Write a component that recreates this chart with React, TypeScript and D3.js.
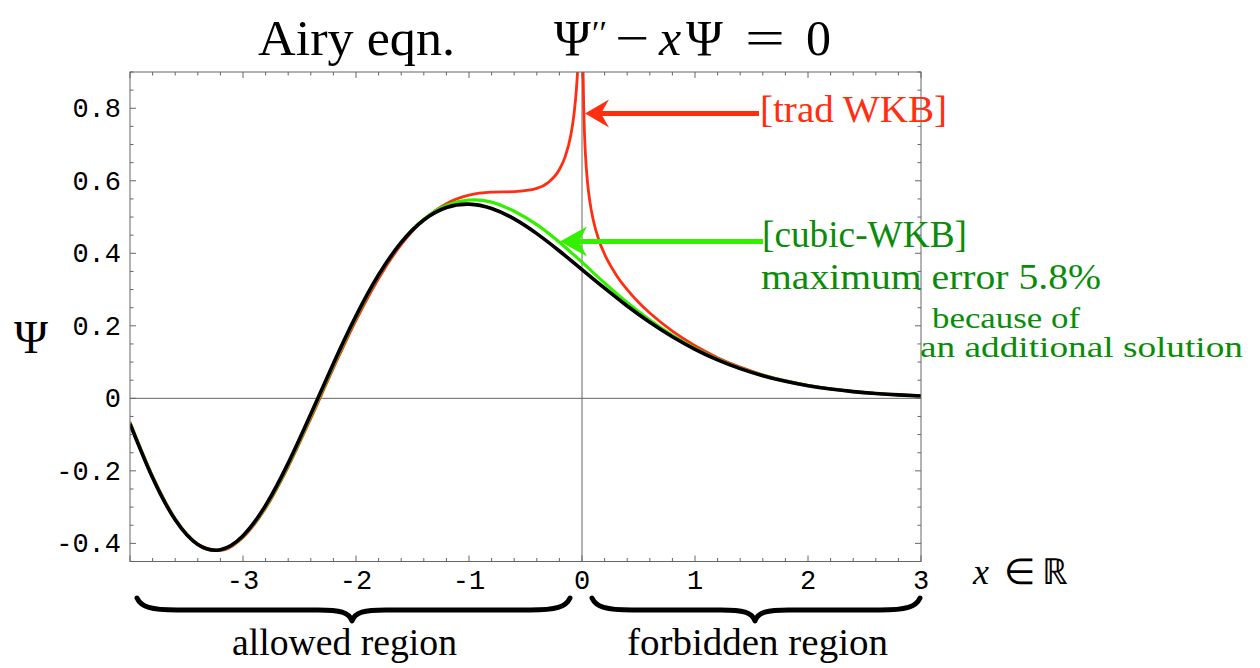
import React from 'react';
import * as d3 from 'd3';

// x grid for exact Airy solution and cubic-WKB approximation
const xGrid = [
  -4.0, -3.8, -3.6, -3.4, -3.2, -3.0, -2.8, -2.6, -2.4, -2.2, -2.0, -1.8,
  -1.6, -1.4, -1.2, -1.0, -0.8, -0.6, -0.4, -0.2, 0.0, 0.2, 0.4, 0.6,
  0.8, 1.0, 1.2, 1.4, 1.6, 1.8, 2.0, 2.2, 2.4, 2.6, 2.8, 3.0,
];
// exact solution (black)
const airyExact = [
  -0.07027, -0.21911, -0.33494, -0.40309, -0.41739, -0.37881, -0.29515, -0.17861,
  -0.04333, 0.09615, 0.22741, 0.34076, 0.42986, 0.4917, 0.52619, 0.53556,
  0.52357, 0.49485, 0.45423, 0.40628, 0.35503, 0.3037, 0.25474, 0.2098,
  0.16985, 0.13529, 0.10613, 0.08204, 0.06254, 0.04704, 0.03492, 0.02561,
  0.01857, 0.01334, 0.00946, 0.00659,
];
// cubic-WKB (green)
const cubicWkb = [
  -0.0685, -0.2175, -0.334, -0.403, -0.418, -0.3805, -0.2985, -0.183,
  -0.0485, 0.091, 0.2235, 0.339, 0.43, 0.494, 0.532, 0.547,
  0.541, 0.516, 0.479, 0.4305, 0.3755, 0.318, 0.264, 0.216,
  0.174, 0.138, 0.108, 0.0832, 0.0633, 0.0476, 0.0353, 0.0258,
  0.0187, 0.0134, 0.0095, 0.0066,
];
// traditional WKB (red), allowed region branch
const tradAllowedX = [
  -4.0, -3.8, -3.6, -3.4, -3.2, -3.0, -2.8, -2.6, -2.4, -2.2, -2.0, -1.8,
  -1.6, -1.4, -1.2, -1.0, -0.8, -0.6, -0.4, -0.3, -0.2, -0.15, -0.1, -0.07,
  -0.05, -0.04, -0.035, -0.03, -0.02,
];
const tradAllowedY = [
  -0.06533, -0.21446, -0.33176, -0.40227, -0.41924, -0.3836, -0.30283, -0.18873,
  -0.0554, 0.08329, 0.21509, 0.33073, 0.42398, 0.49248, 0.53684, 0.56027,
  0.56846, 0.56998, 0.57879, 0.59482, 0.63104, 0.66537, 0.72423, 0.78516,
  0.84992, 0.8968, 0.9264, 0.962, 1.0628,
];
// traditional WKB (red), forbidden region branch
const tradForbiddenX = [
  0.006, 0.008, 0.01, 0.015, 0.02, 0.03, 0.05, 0.07, 0.1, 0.15, 0.2, 0.3,
  0.4, 0.5, 0.6, 0.8, 1.0, 1.2, 1.4, 1.6, 1.8, 2.0, 2.2, 2.4, 2.6, 2.8, 3.0,
];
const tradForbiddenY = [
  1.0136, 0.943, 0.89146, 0.80507, 0.74872, 0.67546, 0.59212, 0.54172, 0.49118,
  0.43606, 0.3974, 0.34161, 0.29966, 0.26502, 0.23512, 0.18511, 0.14483, 0.1122,
  0.08595, 0.06507, 0.04868, 0.03599, 0.0263, 0.019, 0.01358, 0.00959, 0.00671,
];

const xTickValues = [-3, -2, -1, 0, 1, 2, 3];
const xTickLabels = ['-3', '-2', '-1', '0', '1', '2', '3'];
const yTickValues = [-0.4, -0.2, 0, 0.2, 0.4, 0.6, 0.8];
const yTickLabels = ['-0.4', '-0.2', '0', '0.2', '0.4', '0.6', '0.8'];

const RED = '#ff2d12';
const GREEN_LINE = '#33f000';
const GREEN_TEXT = '#0a8c0a';
const AXIS = '#666';
const SERIF = '"Liberation Serif", "Times New Roman", serif';
const MONO = '"Liberation Mono", "Courier New", monospace';

function bracePath(x0: number, x1: number, xm: number, yEnd: number, yBody: number, yTip: number) {
  return [
    `M${x0},${yEnd}`,
    `C${x0 + 4},${yBody - 3} ${x0 + 14},${yBody} ${x0 + 40},${yBody}`,
    `L${xm - 34},${yBody}`,
    `C${xm - 12},${yBody} ${xm - 3},${yBody + 2} ${xm},${yTip}`,
    `C${xm + 3},${yBody + 2} ${xm + 12},${yBody} ${xm + 34},${yBody}`,
    `L${x1 - 40},${yBody}`,
    `C${x1 - 14},${yBody} ${x1 - 4},${yBody - 3} ${x1},${yEnd}`,
  ].join(' ');
}

export default function App() {
  const left = 130, right = 921, top = 72, bottom = 561.5;
  const x = d3.scaleLinear().domain([-4, 3]).range([left, right]);
  const y = d3.scaleLinear().domain([-0.45, 0.9]).range([bottom, top]);

  const lineNatural = d3
    .line<[number, number]>()
    .x((d) => x(d[0]))
    .y((d) => y(d[1]))
    .curve(d3.curveNatural);
  const lineMono = d3
    .line<[number, number]>()
    .x((d) => x(d[0]))
    .y((d) => y(d[1]))
    .curve(d3.curveMonotoneX);

  const blackPath = lineNatural(xGrid.map((v, i) => [v, airyExact[i]] as [number, number])) || '';
  const greenPath = lineNatural(xGrid.map((v, i) => [v, cubicWkb[i]] as [number, number])) || '';
  const redA = lineMono(tradAllowedX.map((v, i) => [v, tradAllowedY[i]] as [number, number])) || '';
  const redF = lineMono(tradForbiddenX.map((v, i) => [v, tradForbiddenY[i]] as [number, number])) || '';

  const xMinor = d3.range(-4, 3.0001, 0.2).map((v) => Math.round(v * 10) / 10);
  const yMinor = d3.range(-0.45, 0.9001, 0.05).map((v) => Math.round(v * 100) / 100);
  const isXMajor = (v: number) => Math.abs(v - Math.round(v)) < 1e-6;
  const isYMajor = (v: number) => Math.abs(v * 5 - Math.round(v * 5)) < 1e-6;

  const ticks: JSX.Element[] = [];
  xMinor.forEach((v, i) => {
    const len = isXMajor(v) ? 6 : 3.5;
    const px = x(v);
    ticks.push(<line key={'xb' + i} x1={px} x2={px} y1={bottom} y2={bottom - len} stroke={AXIS} strokeWidth={1} />);
    ticks.push(<line key={'xt' + i} x1={px} x2={px} y1={top} y2={top + len} stroke={AXIS} strokeWidth={1} />);
  });
  yMinor.forEach((v, i) => {
    const len = isYMajor(v) ? 6 : 3.5;
    const py = y(v);
    ticks.push(<line key={'yl' + i} x1={left} x2={left + len} y1={py} y2={py} stroke={AXIS} strokeWidth={1} />);
    ticks.push(<line key={'yr' + i} x1={right} x2={right - len} y1={py} y2={py} stroke={AXIS} strokeWidth={1} />);
  });

  const fit = { lengthAdjust: 'spacingAndGlyphs' as const };

  return (
    <svg
      width={1260}
      height={668}
      viewBox="0 0 1260 668"
      style={{ position: 'absolute', left: 0, top: 0, background: '#fff' }}
    >
      <defs>
        <clipPath id="plotClip">
          <rect x={left} y={top} width={right - left} height={bottom - top} />
        </clipPath>
      </defs>
      <rect x={0} y={0} width={1260} height={668} fill="#fff" />

      {/* Title */}
      <text x={258} y={55} fontFamily={SERIF} fontSize={50} fill="#000" textLength={197} {...fit}>Airy eqn.</text>
      <g fontFamily={SERIF} fontSize={50} fill="#000">
        <text x={554} y={55}>Ψ</text>
        <text x={592} y={44} fontSize={34}>′′</text>
        <text x={615} y={55} textLength={34} {...fit}>−</text>
        <text x={659} y={55} fontStyle="italic">x</text>
        <text x={686} y={55}>Ψ</text>
        <text x={745} y={55} textLength={40} {...fit}>=</text>
        <text x={806} y={55}>0</text>
      </g>

      {/* zero axes */}
      <line x1={left} x2={right} y1={y(0)} y2={y(0)} stroke={AXIS} strokeWidth={1} />
      <line x1={x(0)} x2={x(0)} y1={top} y2={bottom} stroke={AXIS} strokeWidth={1} />

      {/* curves */}
      <g clipPath="url(#plotClip)" fill="none" strokeLinejoin="round">
        <path d={redA} stroke={RED} strokeWidth={2.8} />
        <path d={redF} stroke={RED} strokeWidth={2.8} />
        <path d={greenPath} stroke={GREEN_LINE} strokeWidth={3.2} />
        <path d={blackPath} stroke="#000" strokeWidth={3.6} />
      </g>

      {/* frame */}
      <rect x={left} y={top} width={right - left} height={bottom - top} fill="none" stroke={AXIS} strokeWidth={1} />
      {ticks}

      {/* tick labels */}
      <g fontFamily={MONO} fontSize={27} fill="#000">
        {yTickValues.map((v, i) => (
          <text key={'yl' + i} x={121} y={y(v) + 9} textAnchor="end">{yTickLabels[i]}</text>
        ))}
        {xTickValues.map((v, i) => (
          <text key={'xl' + i} x={x(v)} y={589} textAnchor="middle">{xTickLabels[i]}</text>
        ))}
      </g>

      {/* axis labels */}
      <text x={31} y={353} fontFamily={SERIF} fontSize={46} textAnchor="middle" fill="#000">Ψ</text>
      <g fontFamily={SERIF} fontSize={36} fill="#000">
        <text x={973} y={584} fontStyle="italic">x</text>
        <text x={1004} y={584}>∈</text>
        <text x={1042} y={584}>ℝ</text>
      </g>

      {/* braces */}
      <path d={bracePath(137, 570, 352, 598, 610, 621)} fill="none" stroke="#000" strokeWidth={5} strokeLinecap="round" strokeLinejoin="round" />
      <path d={bracePath(592, 920, 755, 598, 610, 621)} fill="none" stroke="#000" strokeWidth={5} strokeLinecap="round" strokeLinejoin="round" />
      <text x={232} y={655} fontFamily={SERIF} fontSize={37} fill="#000" textLength={225} {...fit}>allowed region</text>
      <text x={627} y={655} fontFamily={SERIF} fontSize={37} fill="#000" textLength={261} {...fit}>forbidden region</text>

      {/* red annotation */}
      <line x1={600} x2={759} y1={113.5} y2={113.5} stroke={RED} strokeWidth={5} />
      <path d="M585,113.5 L609,99.5 L601,113.5 L609,127.5 Z" fill={RED} />
      <text x={760} y={122} fontFamily={SERIF} fontSize={37} fill={RED} textLength={187} {...fit}>[trad WKB]</text>

      {/* green annotation */}
      <line x1={578} x2={763} y1={241.5} y2={241.5} stroke={GREEN_LINE} strokeWidth={5} />
      <path d="M560,241.5 L587,226.5 L579,241.5 L587,256.5 Z" fill={GREEN_LINE} />
      <g fontFamily={SERIF} fill={GREEN_TEXT}>
        <text x={762} y={247} fontSize={37} textLength={205} {...fit}>[cubic-WKB]</text>
        <text x={761} y={289} fontSize={36} textLength={340} {...fit}>maximum error 5.8%</text>
        <text x={932} y={328} fontSize={30} textLength={148} {...fit}>because of</text>
        <text x={920} y={357} fontSize={30} textLength={323} {...fit}>an additional solution</text>
      </g>
    </svg>
  );
}
